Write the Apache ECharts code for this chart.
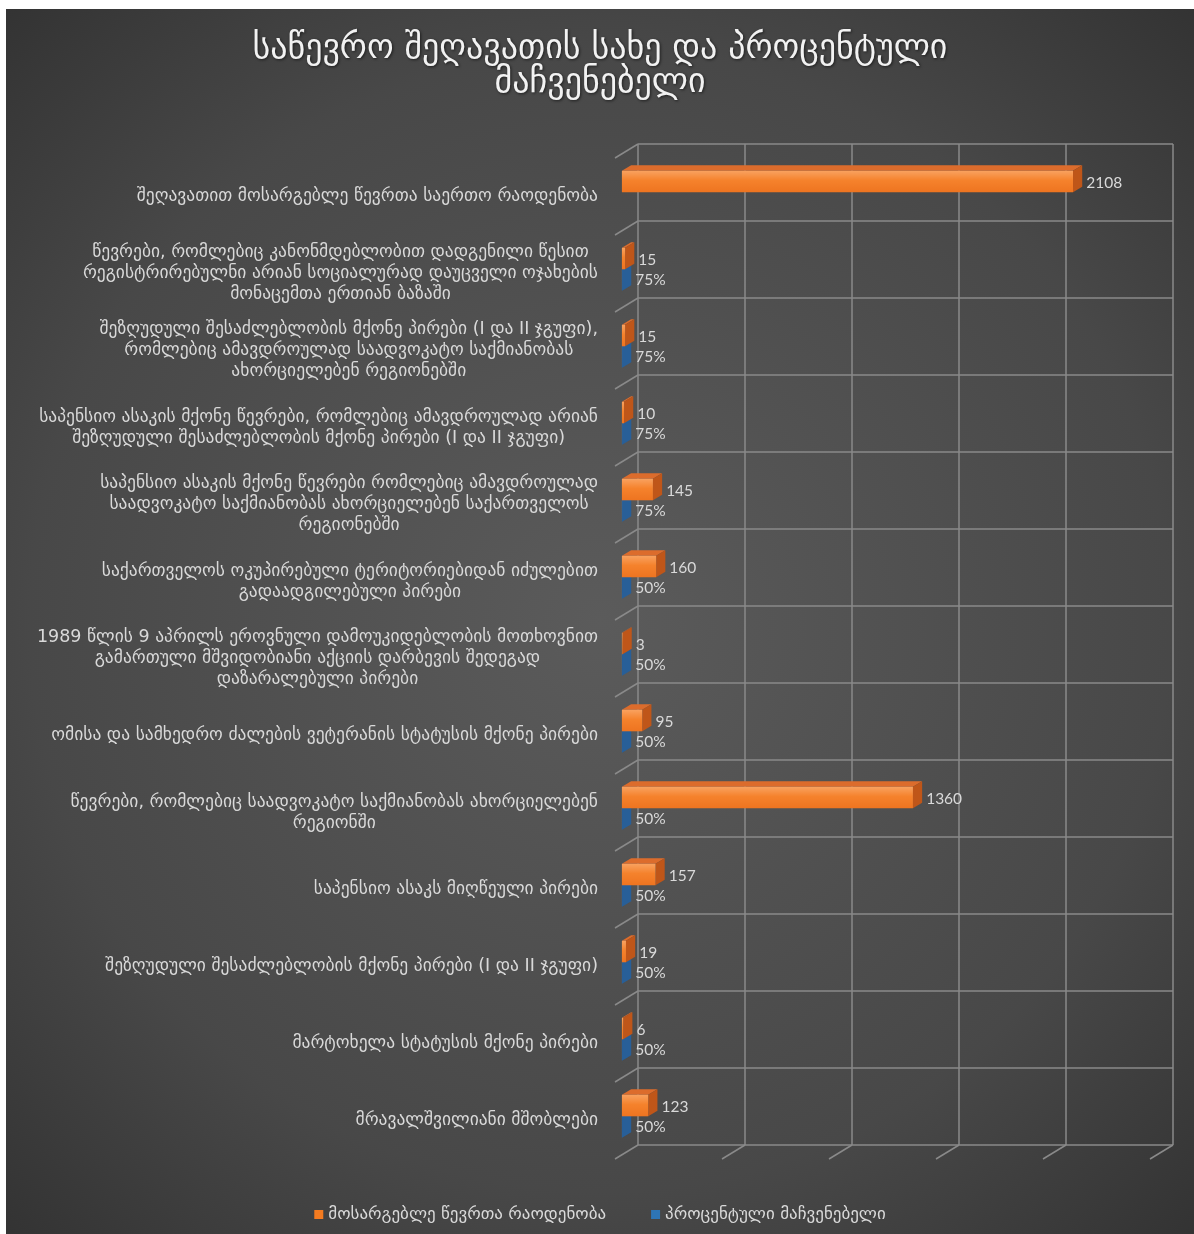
<!DOCTYPE html>
<html><head><meta charset="utf-8">
<script src="https://cdn.jsdelivr.net/npm/echarts@6/dist/echarts.min.js"></script>
<style>
html,body{margin:0;padding:0;background:#ffffff;width:1194px;height:1234px;overflow:hidden}
#c{position:absolute;left:6px;top:9px;width:1188px;height:1225px}
</style>
</head><body><div id="c"></div>
<script>
// ---------- data ----------
const categories = [
  'შეღავათით მოსარგებლე წევრთა საერთო რაოდენობა',
  'წევრები, რომლებიც კანონმდებლობით დადგენილი წესით\nრეგისტრირებულნი არიან სოციალურად დაუცველი ოჯახების\nმონაცემთა ერთიან ბაზაში',
  'შეზღუდული შესაძლებლობის მქონე პირები (I და II ჯგუფი),\nრომლებიც ამავდროულად საადვოკატო საქმიანობას\nახორციელებენ რეგიონებში',
  'საპენსიო ასაკის მქონე წევრები, რომლებიც ამავდროულად არიან\nშეზღუდული შესაძლებლობის მქონე პირები (I და II ჯგუფი)',
  'საპენსიო ასაკის მქონე წევრები რომლებიც ამავდროულად\nსაადვოკატო საქმიანობას ახორციელებენ საქართველოს\nრეგიონებში',
  'საქართველოს ოკუპირებული ტერიტორიებიდან იძულებით\nგადაადგილებული პირები',
  '1989 წლის 9 აპრილს ეროვნული დამოუკიდებლობის მოთხოვნით\nგამართული მშვიდობიანი აქციის დარბევის შედეგად\nდაზარალებული პირები',
  'ომისა და სამხედრო ძალების ვეტერანის სტატუსის მქონე პირები',
  'წევრები, რომლებიც საადვოკატო საქმიანობას ახორციელებენ\nრეგიონში',
  'საპენსიო ასაკს მიღწეული პირები',
  'შეზღუდული შესაძლებლობის მქონე პირები (I და II ჯგუფი)',
  'მარტოხელა სტატუსის მქონე პირები',
  'მრავალშვილიანი მშობლები'
];
const memberCounts = [2108, 15, 15, 10, 145, 160, 3, 95, 1360, 157, 19, 6, 123];
const percentShares = [null, 0.75, 0.75, 0.75, 0.75, 0.5, 0.5, 0.5, 0.5, 0.5, 0.5, 0.5, 0.5];
const valueTicks = [0, 500, 1000, 1500, 2000, 2500];
const seriesNames = ['მოსარგებლე წევრთა რაოდენობა', 'პროცენტული მაჩვენებელი'];
const titleText = 'საწევრო შეღავათის სახე და პროცენტული\nმაჩვენებელი';

// ---------- style constants ----------
const GEO_FONT = '"DejaVu Sans", sans-serif';
const NUM_FONT = 'Lato, "DejaVu Sans", sans-serif';
const TEXT_COLOR = '#d9d9d9';
const GRID_COLOR = '#8a8a8a';
const DEPTH = [23, -14];          // front plane -> back wall offset
const BAR_FRONT = 0.3, BAR_DEPTH = 0.4, BAR_FRAC = 0.28;
const LABEL_SIZE = 17.5, LABEL_LH = 21, LABEL_RIGHT = 592;

const ctx = document.createElement('canvas').getContext('2d');
ctx.font = LABEL_SIZE + 'px ' + GEO_FONT;
const labelWidths = categories.map(c => Math.max(...c.split('\n').map(l => ctx.measureText(l).width)));

const chart = echarts.init(document.getElementById('c'));

function barItem(which) {
  return function (params, api) {
    const v = api.value(0);
    if (v == null || isNaN(v)) return;
    const ci = api.value(1);
    const p0 = api.coord([0, ci]);
    const p1 = api.coord([v, ci]);
    const h = api.size([0, 1])[1] * BAR_FRAC;
    const fx = DEPTH[0] * BAR_FRONT, fy = DEPTH[1] * BAR_FRONT;
    const dx = DEPTH[0] * BAR_DEPTH, dy = DEPTH[1] * BAR_DEPTH;
    const x0 = p0[0] + fx, x1 = p1[0] + fx;
    const yc = p0[1] + fy;
    const yT = which === 0 ? yc - h : yc;
    const yB = yT + h;
    const col = which === 0
      ? { front: new echarts.graphic.LinearGradient(0, 0, 0, 1, [{offset: 0, color: '#f9a260'}, {offset: 0.45, color: '#f5822c'}, {offset: 1, color: '#ee7420'}]), top: '#dc6c2c', side: '#bf5619' }
      : { front: new echarts.graphic.LinearGradient(0, 0, 0, 1, [{offset: 0, color: '#4a8ccc'}, {offset: 1, color: '#2c6aa8'}]), top: '#3b7bbb', side: '#285f98' };
    const label = which === 0 ? String(v) : Math.round(v * 100) + '%';
    return {
      type: 'group',
      children: [
        { type: 'polygon', shape: { points: [[x0, yT], [x1, yT], [x1 + dx, yT + dy], [x0 + dx, yT + dy]] }, style: { fill: col.top } },
        { type: 'polygon', shape: { points: [[x1, yT], [x1 + dx, yT + dy], [x1 + dx, yB + dy], [x1, yB]] }, style: { fill: col.side } },
        { type: 'rect', shape: { x: x0, y: yT, width: Math.max(x1 - x0, 0), height: h }, style: { fill: col.front } },
        { type: 'text', style: { text: label, x: x1 + dx + 4, y: (yT + yB) / 2 + (which === 0 ? 1 : 0), fill: TEXT_COLOR, fontSize: 15.5, fontFamily: NUM_FONT, align: 'left', verticalAlign: 'middle' } }
      ]
    };
  };
}

const option = {
  backgroundColor: new echarts.graphic.RadialGradient(0.5, 0.5, 0.8, [
    { offset: 0, color: '#5b5b5b' }, { offset: 0.6, color: '#484848' }, { offset: 1, color: '#2c2c2c' }
  ]),
  animation: false,
  title: {
    text: titleText, left: 'center', top: 18,
    textStyle: { color: '#f2f2f2', fontSize: 34, fontWeight: 'normal', fontFamily: GEO_FONT, lineHeight: 34,
      textShadowColor: 'rgba(0,0,0,0.6)', textShadowBlur: 3, textShadowOffsetX: 1, textShadowOffsetY: 1 }
  },
  legend: {
    data: seriesNames, bottom: 6, left: 'center', icon: 'rect', itemWidth: 9, itemHeight: 9, itemGap: 45,
    textStyle: { color: TEXT_COLOR, fontSize: 17, fontFamily: GEO_FONT }
  },
  grid: [
    { left: 632, top: 135, right: 21, bottom: 89 },
    { left: 609, top: 149, right: 44, bottom: 75 }
  ],
  xAxis: [
    { gridIndex: 0, type: 'value', min: 0, max: 2500, interval: 500, axisLabel: { show: false }, axisLine: { show: false }, axisTick: { show: false },
      splitLine: { show: true, lineStyle: { color: GRID_COLOR, width: 1.5 } } },
    { gridIndex: 1, type: 'value', min: 0, max: 2500, interval: 500, show: false }
  ],
  yAxis: [
    { gridIndex: 0, type: 'category', data: categories, inverse: true, axisLabel: { show: false }, axisLine: { show: false }, axisTick: { show: false },
      splitLine: { show: true, interval: 0, lineStyle: { color: GRID_COLOR, width: 1.5 } } },
    { gridIndex: 1, type: 'category', data: categories, inverse: true, show: false }
  ],
  series: [
    { type: 'custom', name: 'wall', silent: true, clip: false, xAxisIndex: 0, yAxisIndex: 0,
      data: categories.map((c, i) => [0, i]),
      renderItem: (params, api) => {
        const p = api.coord([api.value(0), api.value(1)]);
        const y = p[1] - api.size([0, 1])[1] / 2;
        return { type: 'line', shape: { x1: p[0], y1: y, x2: p[0] - DEPTH[0], y2: y - DEPTH[1] }, style: { stroke: GRID_COLOR, lineWidth: 1.5 } };
      } },
    { type: 'custom', name: 'floor', silent: true, clip: false, xAxisIndex: 0, yAxisIndex: 0,
      data: valueTicks.map(v => [v, categories.length - 1]),
      renderItem: (params, api) => {
        const p = api.coord([api.value(0), api.value(1)]);
        const y = p[1] + api.size([0, 1])[1] / 2;
        return { type: 'line', shape: { x1: p[0], y1: y, x2: p[0] - DEPTH[0], y2: y - DEPTH[1] }, style: { stroke: GRID_COLOR, lineWidth: 1.5 } };
      } },
    { type: 'custom', name: 'labels', silent: true, clip: false, xAxisIndex: 1, yAxisIndex: 1,
      data: categories.map((c, i) => [0, i]),
      renderItem: (params, api) => {
        const i = api.value(1);
        const p = api.coord([0, i]);
        return { type: 'text', style: { text: categories[i], x: LABEL_RIGHT - labelWidths[i] / 2, y: p[1], align: 'center', verticalAlign: 'middle',
          fill: TEXT_COLOR, fontSize: LABEL_SIZE, fontFamily: GEO_FONT, lineHeight: LABEL_LH } };
      } },
    { type: 'custom', name: seriesNames[1], clip: false, xAxisIndex: 1, yAxisIndex: 1, z: 3,
      itemStyle: { color: '#2e75b6' },
      data: percentShares.map((v, i) => [v, i]),
      renderItem: barItem(1) },
    { type: 'custom', name: seriesNames[0], clip: false, xAxisIndex: 1, yAxisIndex: 1, z: 4,
      itemStyle: { color: '#f47b20' },
      data: memberCounts.map((v, i) => [v, i]),
      renderItem: barItem(0) }
  ]
};
chart.setOption(option);
</script></body></html>
